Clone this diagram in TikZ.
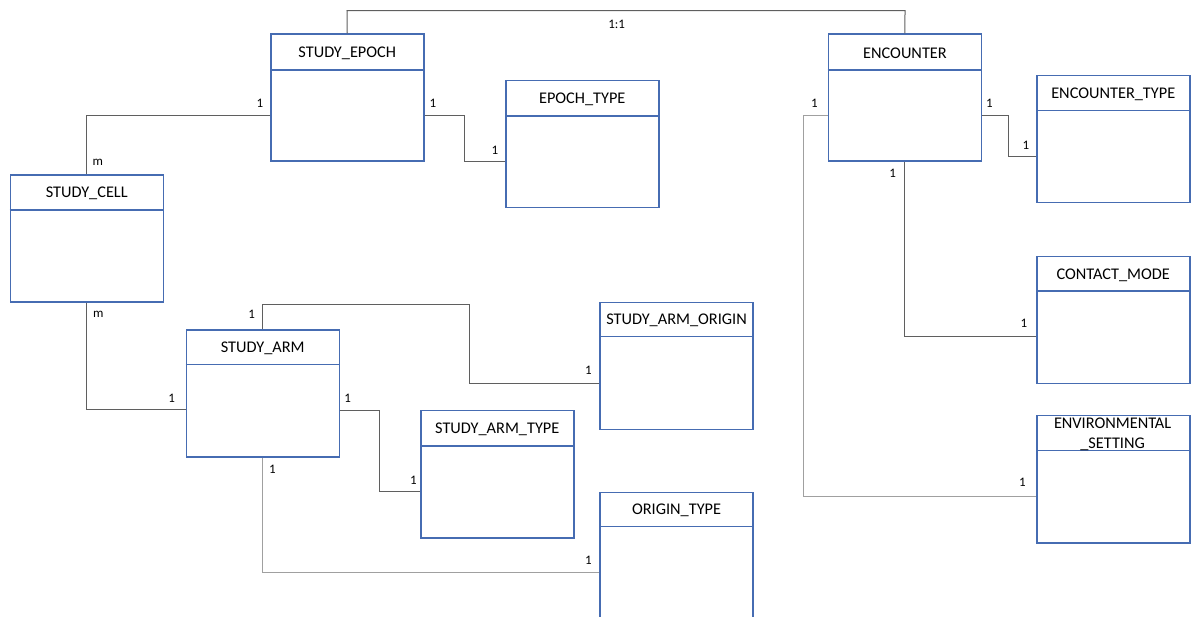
\documentclass[tikz,border=0pt]{standalone}
\usepackage{fontspec}
\setmainfont{Carlito}
\usetikzlibrary{calc}
\definecolor{boxblue}{RGB}{70,108,178}
\definecolor{lndark}{RGB}{95,95,95}
\definecolor{lnlight}{RGB}{160,160,160}
\tikzset{
  entity/.style={draw=boxblue, line width=1.5pt, fill=white, anchor=north west,
    minimum width=153pt, minimum height=127pt, inner sep=0pt},
  hdrline/.style={draw=boxblue, line width=1.5pt},
  title/.style={font=\fontsize{16.3}{19.4}\selectfont, text=black, inner sep=0pt, align=center},
  card/.style={font=\fontsize{13}{14}\selectfont, text=black, inner sep=0pt},
  conn/.style={draw=lndark, line width=1pt},
  connl/.style={draw=lnlight, line width=1pt},
}
\newcommand{\entitybox}[5]{% name, x, y, header height, title
  \node[entity] (#1) at (#2,#3) {};
  \draw[hdrline] ($(#1.north west)+(0,#4)$) -- ($(#1.north east)+(0,#4)$);
  \node[title] (#1-title) at ($(#1.north)+(0,#4/2+1.5)$) {#5};
}
\begin{document}
\begin{tikzpicture}[x=1pt,y=-1pt]
\useasboundingbox (0,0) rectangle (1192,617);
% entities
\entitybox{se}{270}{33.3}{36.7}{STUDY\_EPOCH}
\entitybox{ept}{505}{80}{36}{EPOCH\_TYPE}
\entitybox{enc}{827.7}{33.3}{36.7}{ENCOUNTER}
\entitybox{enct}{1036}{75}{35.5}{ENCOUNTER\_TYPE}
\entitybox{sc}{9.5}{174.3}{35.7}{STUDY\_CELL}
\entitybox{cm}{1036}{256}{35}{CONTACT\_MODE}
\entitybox{sao}{599.3}{301.7}{35}{STUDY\_ARM\_ORIGIN}
\entitybox{sa}{185.5}{329.3}{35}{STUDY\_ARM}
\entitybox{sat}{420}{410}{36}{STUDY\_ARM\_TYPE}
\entitybox{ot}{599.3}{491.7}{35}{ORIGIN\_TYPE}
\node[entity] (env) at (1036,415) {};
\draw[hdrline] ($(env.north west)+(0,35.7)$) -- ($(env.north east)+(0,35.7)$);
\node[title] (env-title) at (1112.6,434.5) {ENVIRONMENTAL\\\_SETTING};
% connectors
\draw[conn] (se.north) -- (347,10.7) -- (905,10.7) -- (enc.north);
\draw[conn] (se.west |- 0,116) -| (sc.north);
\draw[conn] (se.east |- 0,116) -- (464.3,116) |- (ept.west |- 0,161.7);
\draw[conn] (enc.east |- 0,116) -- (1008.7,116) |- (enct.west |- 0,156.7);
\draw[connl] (enc.west |- 0,116) -- (803.3,116) |- (env.west |- 0,496.7);
\draw[conn] (enc.south) |- (cm.west |- 0,336.7);
\draw[conn] (sc.south) |- (sa.west |- 0,410);
\draw[conn] (sa.north) |- (469,305) |- (sao.west |- 0,383.3);
\draw[conn] (sa.east |- 0,410.7) -- (379.3,410.7) |- (sat.west |- 0,491.7);
\draw[connl] (sa.south) |- (ot.west |- 0,572.7);
% cardinality labels
\node[card] (l1) at (616.7,24.3) {1:1};
\node[card] (l2) at (260,103) {1};
\node[card] (l3) at (97.7,162) {m};
\node[card] (l4) at (433,103) {1};
\node[card] (l5) at (495,150.7) {1};
\node[card] (l6) at (989.3,103) {1};
\node[card] (l7) at (1026,145.7) {1};
\node[card] (l8) at (814.3,103) {1};
\node[card] (l9) at (1022.3,482.3) {1};
\node[card] (l10) at (892.7,173.3) {1};
\node[card] (l11) at (1024,323.3) {1};
\node[card] (l12) at (98.3,314.3) {m};
\node[card] (l13) at (171.7,398.3) {1};
\node[card] (l14) at (251.7,314.3) {1};
\node[card] (l15) at (588.3,370) {1};
\node[card] (l16) at (347.7,398.3) {1};
\node[card] (l17) at (413.3,480) {1};
\node[card] (l18) at (272.3,469.3) {1};
\node[card] (l19) at (588.3,560) {1};
\end{tikzpicture}
\end{document}
